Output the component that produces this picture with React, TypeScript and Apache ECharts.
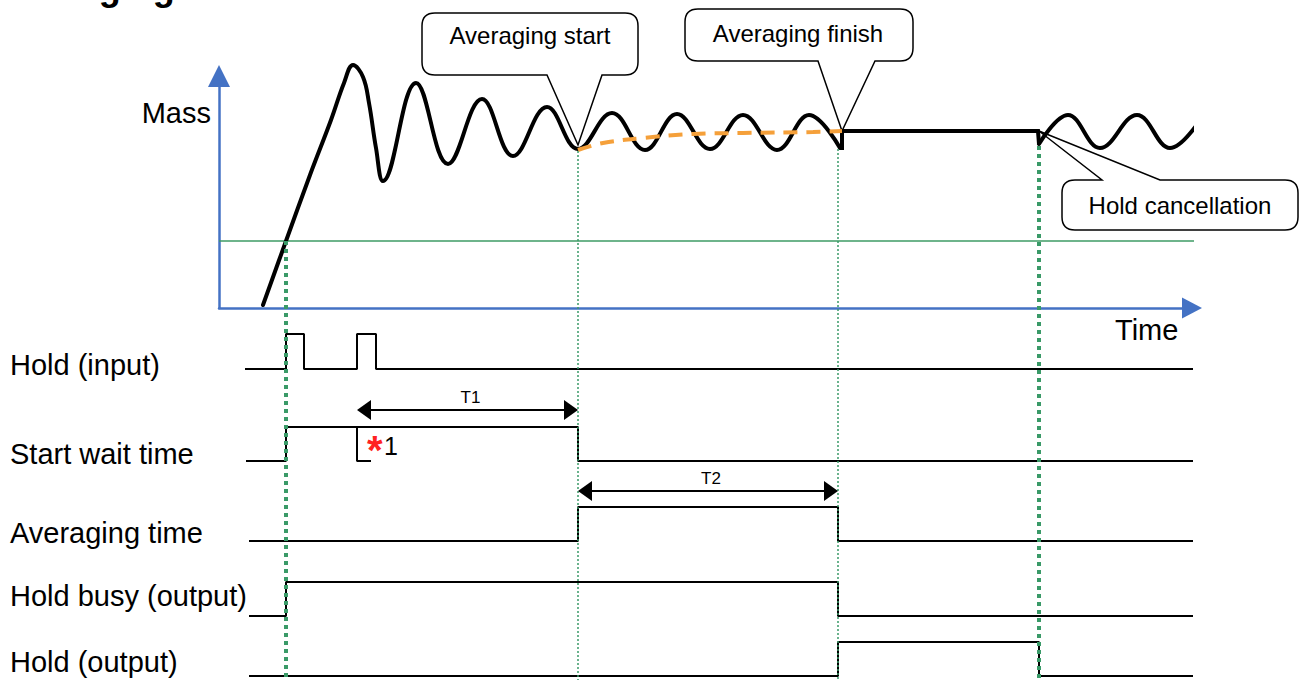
import React, { useEffect, useRef } from "react";
import * as echarts from "echarts";

const FONT = '"Liberation Sans", Arial, Helvetica, sans-serif';

// ---- scales (time units along the mass x-axis, mass units above the axis) ----
const TIME_MAX = 973;
const MASS_MAX = 232;

// ---- events ----
const T_HOLD_ON = 67;
const T_AVG_START = 359;
const T_AVG_FINISH = 619;
const T_CANCEL = 820;

// ---- mass curve ----
const massSettle: number[][] = [
  [44, 3], [67, 67], [91, 133], [112, 188], [125, 225], [134, 243], [144, 231], [150, 205],
  [157, 160], [164, 127], [197, 225], [229, 144],
  [263, 209], [294, 152], [328, 201], [359, 159], [393, 195], [426, 158], [458, 194],
  [491, 159], [524, 193], [558, 158], [590, 193], [621, 160],
];
const massHold: number[][] = [[621, 160], [623, 160], [623, 177], [819, 177], [820, 164]];
const massAfter: number[][] = [[820, 164], [849, 193], [881, 160], [918, 193], [951, 160], [983, 191]];
const massAverage: number[][] = [
  [359, 158], [384, 165], [424, 170], [474, 174], [524, 175], [594, 176], [623, 177],
];
const thresholdLine: number[][] = [[0, 67], [981, 67]];

// ---- timing signals (change points, level 0/1) ----
const signalNames = ["Hold (input)", "Start wait time", "Averaging time", "Hold busy (output)", "Hold (output)"];
const holdInput: number[][] = [[26, 0], [67, 1], [85, 0], [138, 1], [157, 0], [976, 0]];
const startWait: number[][] = [[27, 0], [67, 1], [359, 0], [979, 0]];
const averagingTime: number[][] = [[30, 0], [359, 1], [619, 0], [979, 0]];
const holdBusy: number[][] = [[30, 0], [67, 1], [619, 0], [979, 0]];
const holdOutput: number[][] = [[30, 0], [619, 1], [820, 0], [979, 0]];
const signals = [holdInput, startWait, averagingTime, holdBusy, holdOutput];
const restartMark: number[][] = [[138, 1], [138, 0], [152, 0]];

const spanLabels = ["T1", "T2"];
const spans: number[][] = [[138, T_AVG_START], [T_AVG_START, T_AVG_FINISH]];

const guideTimes = [T_HOLD_ON, T_AVG_START, T_AVG_FINISH, T_CANCEL];
const guideTopMass = [67, 157, 159, 162];
const guideHeavy = [true, false, false, true];

const calloutTexts = ["Averaging start", "Averaging finish", "Hold cancellation"];
const calloutAnchors: number[][] = [[T_AVG_START, 159], [623, 177], [T_CANCEL, 177]];

// ---- layout ----
const GRID_LEFT = 219;
const MASS_TOP = 76;
const ROW_TOPS = [334, 427, 507, 582, 642];
const ROW_HS = [35, 34, 34, 34, 34];
const LABEL_Y = [365, 454, 533, 596, 662];
const SPAN_Y = [410, 491];
const SPAN_ROW = [2, 3];

const CALLOUT_LAYOUT = [
  { box: [422, 13, 638, 75], base: [547, 602], side: "bottom", text: [530, 35], dy: -4 },
  { box: [685, 9, 913, 61], base: [818, 875], side: "bottom", text: [798, 33], dy: 0 },
  { box: [1062, 180, 1298, 230], base: [1102, 1160], side: "top", text: [1180, 205], dy: 0 },
];

function calloutPath(b: number[], base: number[], side: string, tip: number[], r: number) {
  const [x0, y0, x1, y1] = b;
  if (side === "bottom") {
    return `M${x0 + r},${y0} L${x1 - r},${y0} Q${x1},${y0} ${x1},${y0 + r} L${x1},${y1 - r} Q${x1},${y1} ${x1 - r},${y1} L${base[1]},${y1} L${tip[0]},${tip[1]} L${base[0]},${y1} L${x0 + r},${y1} Q${x0},${y1} ${x0},${y1 - r} L${x0},${y0 + r} Q${x0},${y0} ${x0 + r},${y0} Z`;
  }
  return `M${x0 + r},${y0} L${base[0]},${y0} L${tip[0]},${tip[1]} L${base[1]},${y0} L${x1 - r},${y0} Q${x1},${y0} ${x1},${y0 + r} L${x1},${y1 - r} Q${x1},${y1} ${x1 - r},${y1} L${x0 + r},${y1} Q${x0},${y1} ${x0},${y1 - r} L${x0},${y0 + r} Q${x0},${y0} ${x0 + r},${y0} Z`;
}

function txt(text: string, x: number, y: number, size: number, opts: any = {}) {
  const align = opts.align || "left";
  return {
    type: "text",
    z: 20,
    silent: true,
    style: {
      text,
      x,
      y,
      fill: opts.fill || "#000",
      fontSize: size,
      fontFamily: FONT,
      fontWeight: opts.weight || "normal",
      align,
      verticalAlign: "middle",
      textAlign: align,
      textVerticalAlign: "middle",
    },
  };
}

export default function App() {
  const ref = useRef<HTMLDivElement>(null);

  useEffect(() => {
    if (!ref.current) return;
    const chart = echarts.init(ref.current, null, { renderer: "svg" });

    const grids: any[] = [
      { left: GRID_LEFT, top: MASS_TOP, width: TIME_MAX, height: MASS_MAX },
      ...ROW_TOPS.map((t, i) => ({ left: GRID_LEFT, top: t, width: TIME_MAX, height: ROW_HS[i] })),
    ];
    const blue = "#4472C4";
    const xAxes = grids.map((_, i) => ({
      type: "value",
      gridIndex: i,
      min: 0,
      max: TIME_MAX,
      show: i === 0,
      axisLine: {
        show: i === 0,
        onZero: false,
        symbol: ["none", "triangle"],
        symbolSize: [21, 20],
        lineStyle: { color: blue, width: 2.5 },
      },
      axisTick: { show: false },
      axisLabel: { show: false },
      splitLine: { show: false },
    }));
    const yAxes = grids.map((_, i) => ({
      type: "value",
      gridIndex: i,
      min: 0,
      max: i === 0 ? MASS_MAX : 1,
      show: i === 0,
      axisLine: {
        show: i === 0,
        onZero: false,
        symbol: ["none", "triangle"],
        symbolSize: [22, 22],
        lineStyle: { color: blue, width: 2.5 },
      },
      axisTick: { show: false },
      axisLabel: { show: false },
      splitLine: { show: false },
    }));

    const base = { type: "line", showSymbol: false, symbol: "none", silent: true, clip: false };
    const black4 = { color: "#000", width: 4, join: "round", cap: "round" };
    const series: any[] = [
      { ...base, xAxisIndex: 0, yAxisIndex: 0, data: thresholdLine, lineStyle: { color: "#3E9B64", width: 1.5 }, z: 2 },
      { ...base, xAxisIndex: 0, yAxisIndex: 0, data: massSettle, smooth: 0.4, lineStyle: black4, z: 3 },
      { ...base, xAxisIndex: 0, yAxisIndex: 0, data: massHold, lineStyle: { color: "#000", width: 4, join: "miter" }, z: 3 },
      { ...base, xAxisIndex: 0, yAxisIndex: 0, data: massAfter, smooth: 0.4, lineStyle: black4, z: 3 },
      { ...base, xAxisIndex: 0, yAxisIndex: 0, data: massAverage, smooth: 0.4, lineStyle: { color: "#F5A03A", width: 4, type: [14, 9] }, z: 4 },
      ...signals.map((d, i) => ({
        ...base,
        xAxisIndex: i + 1,
        yAxisIndex: i + 1,
        data: d,
        step: "end",
        lineStyle: { color: "#000", width: 2 },
        z: 3,
      })),
      { ...base, xAxisIndex: 2, yAxisIndex: 2, data: restartMark, lineStyle: { color: "#000", width: 2 }, z: 3 },
    ];

    chart.setOption({
      animation: false,
      backgroundColor: "#fff",
      grid: grids,
      xAxis: xAxes,
      yAxis: yAxes,
      series,
    });

    const toPx = (g: number, t: number, v: number) =>
      chart.convertToPixel({ gridIndex: g } as any, [t, v]) as unknown as number[];

    const elements: any[] = [];

    // title (cut off at top, as in the reference)
    elements.push(txt("Averaging", 0, -13, 36, { weight: "bold" }));

    // axis names
    elements.push(txt("Mass", 211, 113, 29, { align: "right" }));
    elements.push(txt("Time", 1115, 330, 29));

    // row labels
    signalNames.forEach((n, i) => elements.push(txt(n, 10, LABEL_Y[i], 29)));

    // guide lines
    guideTimes.forEach((t, i) => {
      const top = toPx(0, t, guideTopMass[i]);
      elements.push({
        type: "line",
        z: 10,
        silent: true,
        shape: { x1: top[0], y1: top[1], x2: top[0], y2: 680 },
        style: {
          stroke: "#3A9A68",
          lineWidth: guideHeavy[i] ? 4 : 1.5,
          lineDash: guideHeavy[i] ? [4, 4] : [2, 2],
        },
      });
    });

    // T1 / T2 span arrows
    spans.forEach((s, k) => {
      const y = SPAN_Y[k];
      const xa = toPx(SPAN_ROW[k], s[0], 0)[0];
      const xb = toPx(SPAN_ROW[k], s[1], 0)[0];
      elements.push({
        type: "line", z: 12, silent: true,
        shape: { x1: xa + 8, y1: y, x2: xb - 8, y2: y },
        style: { stroke: "#000", lineWidth: 2 },
      });
      elements.push({
        type: "polygon", z: 12, silent: true,
        shape: { points: [[xa, y], [xa + 14, y - 10], [xa + 14, y + 10]] },
        style: { fill: "#000" },
      });
      elements.push({
        type: "polygon", z: 12, silent: true,
        shape: { points: [[xb, y], [xb - 14, y - 10], [xb - 14, y + 10]] },
        style: { fill: "#000" },
      });
      elements.push(txt(spanLabels[k], (xa + xb) / 2 + 3, y - 13, 17, { align: "center" }));
    });

    // *1 note
    const markEnd = toPx(2, restartMark[2][0], 0);
    elements.push(txt("*", markEnd[0] - 4, 450, 40, { fill: "#F22", weight: "bold" }));
    elements.push(txt("1", markEnd[0] + 13, 446, 25));

    // callouts
    CALLOUT_LAYOUT.forEach((c, i) => {
      const a = toPx(0, calloutAnchors[i][0], calloutAnchors[i][1]);
      const tip = [a[0], a[1] + c.dy];
      const name = "callout" + i;
      echarts.graphic.registerShape(
        name,
        echarts.graphic.extendPath(calloutPath(c.box, c.base, c.side, tip, 13), {}) as any
      );
      elements.push({
        type: name,
        x: 0,
        y: 0,
        z: 1,
        silent: true,
        style: { fill: "#fff", stroke: "#000", lineWidth: 1.5 },
      });
      elements.push(txt(calloutTexts[i], c.text[0], c.text[1], 24, { align: "center" }));
    });

    chart.setOption({ graphic: { elements } });

    return () => chart.dispose();
  }, []);

  return (
    <div
      ref={ref}
      style={{ position: "absolute", left: 0, top: 0, width: 1301, height: 680, background: "#fff" }}
    />
  );
}
